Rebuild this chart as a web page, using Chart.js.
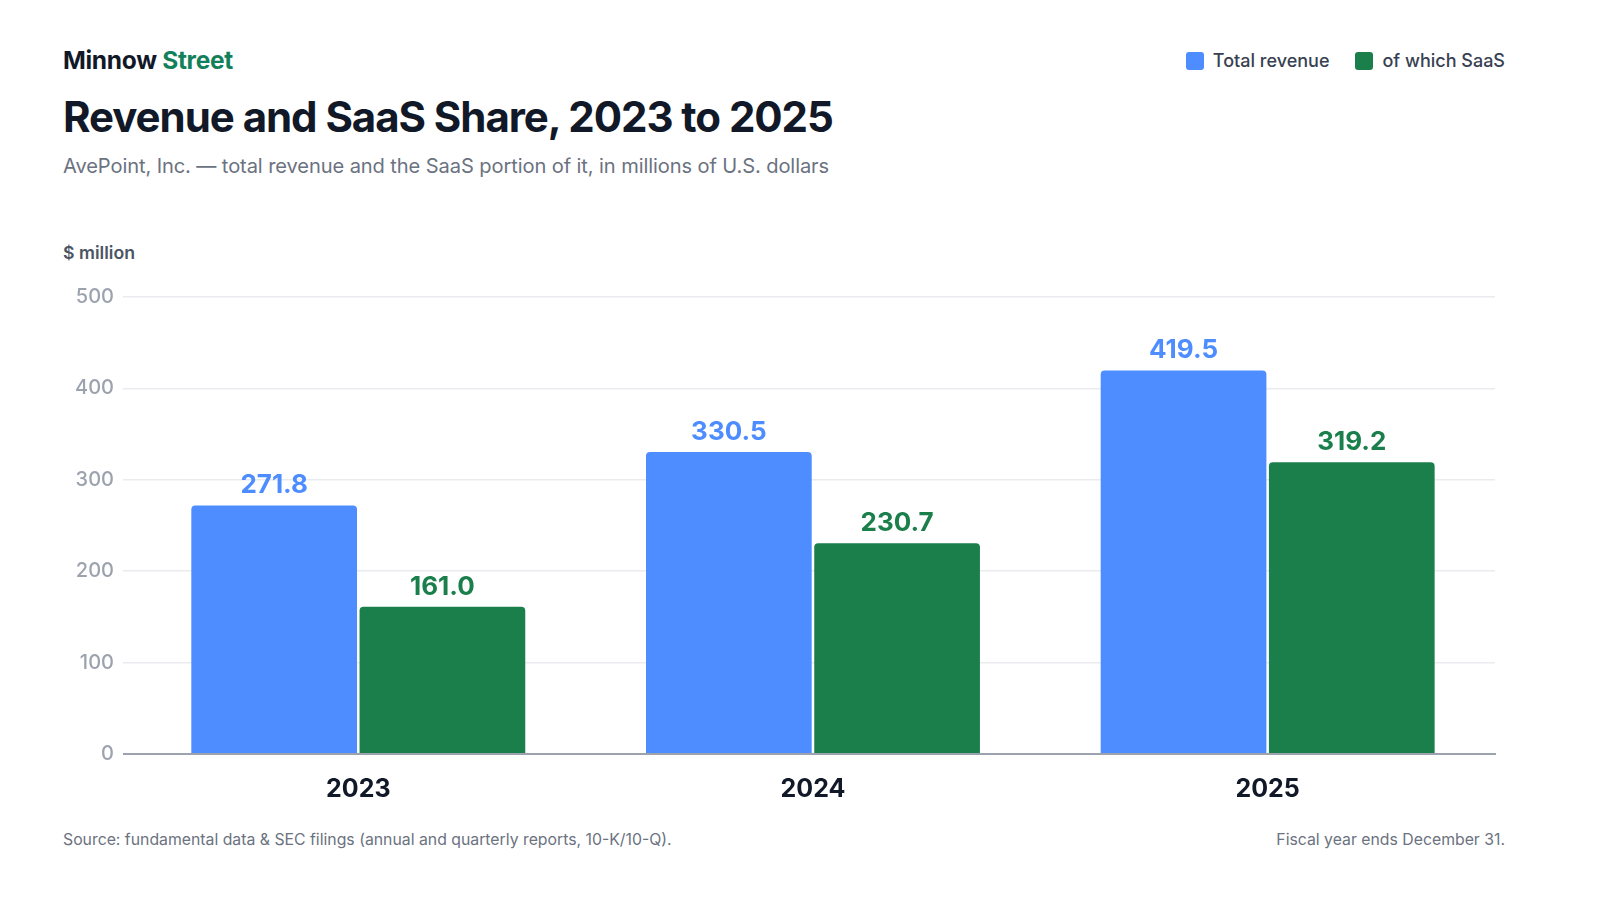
<!DOCTYPE html>
<html>
<head>
<meta charset="utf-8">
<script src="https://cdn.jsdelivr.net/npm/chart.js@4/dist/chart.umd.min.js"></script>
<style>
  html, body { margin: 0; padding: 0; background: #fff; }
  body { width: 1600px; height: 900px; position: relative; font-family: Inter, "Noto Sans", sans-serif; overflow: hidden; }
  .brand { position: absolute; left: 63px; top: 45px; font-size: 24.5px; font-weight: 700; color: #111827; letter-spacing: -0.3px; }
  .brand span { color: #12805a; }
  h1 { position: absolute; left: 63px; top: 91px; margin: 0; font-size: 42px; font-weight: 700; color: #111827; letter-spacing: -1.05px; }
  .sub { position: absolute; left: 63px; top: 154px; font-size: 20.1px; color: #6b7280; letter-spacing: -0.1px; }
  .unit { position: absolute; left: 63px; top: 242px; font-size: 17.7px; font-weight: 600; color: #4b5563; }
  #legend { position: absolute; right: 95px; top: 50px; display: flex; gap: 26px; font-size: 18px; font-weight: 500; color: #374151; }
  #legend .item { display: flex; align-items: center; gap: 9px; }
  #legend .sw { width: 18px; height: 18px; border-radius: 3px; display: inline-block; }
  .foot { position: absolute; top: 830px; font-size: 15.8px; color: #6b7280; }
  #wrap { position: absolute; left: 63px; top: 276px; width: 1442px; height: 540px; }
</style>
</head>
<body>
<div class="brand">Minnow <span>Street</span></div>
<h1>Revenue and SaaS Share, 2023 to 2025</h1>
<div class="sub">AvePoint, Inc. — total revenue and the SaaS portion of it, in millions of U.S. dollars</div>
<div class="unit">$ million</div>
<div id="legend"></div>
<div id="wrap"><canvas id="chart"></canvas></div>
<div class="foot" style="left:63px">Source: fundamental data &amp; SEC filings (annual and quarterly reports, 10-K/10-Q).</div>
<div class="foot" style="right:95px">Fiscal year ends December 31.</div>
<script>
// Chart data
const years = ["2023", "2024", "2025"];
const totalRevenue = [271.8, 330.5, 419.5];
const saasRevenue = [161.0, 230.7, 319.2];
const seriesNames = ["Total revenue", "of which SaaS"];
const yTicks = [0, 100, 200, 300, 400, 500];

const colors = ["#4d8dff", "#1b7f4c"];

// HTML legend from the series
const legend = document.getElementById("legend");
seriesNames.forEach((name, i) => {
	const item = document.createElement("div");
	item.className = "item";
	item.innerHTML = '<span class="sw" style="background:' + colors[i] + '"></span>' + name;
	legend.appendChild(item);
});

// draws the value above each bar
const valueLabels = {
	id: "valueLabels",
	afterDatasetsDraw(chart) {
		const ctx = chart.ctx;
		ctx.save();
		ctx.font = "700 26px Inter";
		ctx.textAlign = "center";
		ctx.textBaseline = "bottom";
		chart.data.datasets.forEach((ds, di) => {
			chart.getDatasetMeta(di).data.forEach((bar, i) => {
				ctx.fillStyle = colors[di];
				ctx.fillText(ds.data[i].toFixed(1), bar.x, bar.y - 7);
			});
		});
		ctx.restore();
	}
};

const context = document.getElementById("chart").getContext("2d");
const chart = new Chart(context, {
	type: "bar",
	data: {
		labels: years,
		datasets: [
			{ label: seriesNames[0], data: totalRevenue, backgroundColor: colors[0] },
			{ label: seriesNames[1], data: saasRevenue, backgroundColor: colors[1] }
		]
	},
	options: {
		responsive: true,
		maintainAspectRatio: false,
		animation: false,
		layout: { padding: { left: 3, right: 10, top: 16, bottom: 0 } },
		datasets: {
			bar: {
				categoryPercentage: 0.74,
				barPercentage: 0.985,
				borderRadius: { topLeft: 4, topRight: 4 },
				borderSkipped: "bottom"
			}
		},
		scales: {
			y: {
				min: 0,
				max: 500,
				afterBuildTicks: axis => { axis.ticks = yTicks.map(v => ({ value: v })); },
				grid: {
					color: c => c.tick && c.tick.value === 0 ? "#9ca3af" : "#e9ebef",
					lineWidth: c => c.tick && c.tick.value === 0 ? 2 : 1.5,
					drawTicks: true,
					tickLength: 8
				},
				border: { display: false },
				ticks: {
					padding: 9,
					color: "#9ca3af",
					font: { family: "Inter", size: 20, weight: "500" }
				}
			},
			x: {
				grid: { display: false },
				border: { display: true, color: "#9ca3af", width: 2 },
				ticks: {
					padding: 12,
					color: "#111827",
					font: { family: "Inter", size: 25, weight: "700" }
				}
			}
		},
		plugins: {
			legend: { display: false },
			tooltip: { enabled: false }
		}
	},
	plugins: [valueLabels]
});
</script>
</body>
</html>
